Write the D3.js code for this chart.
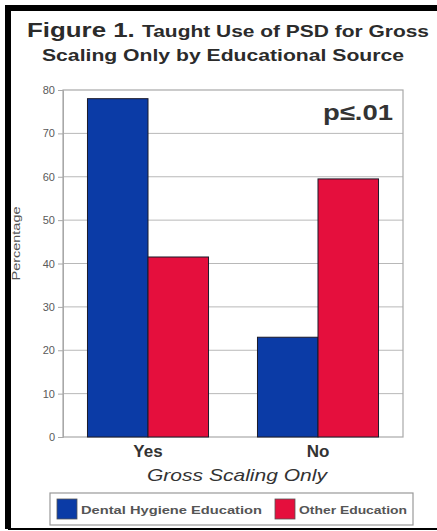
<!DOCTYPE html>
<html>
<head>
<meta charset="utf-8">
<script src="https://cdn.jsdelivr.net/npm/d3@7"></script>
<style>
  html, body { margin: 0; padding: 0; background: #fff; }
  svg { display: block; }
  text { font-family: "Liberation Sans", Arial, sans-serif; }
</style>
</head>
<body>
<div id="chart"></div>
<script>
// Survey results: share of respondents taught to use PSD for gross scaling only
const categories = ["Yes", "No"];
const seriesNames = ["Dental Hygiene Education", "Other Education"];
const dentalHygiene = [78, 23];
const otherEducation = [41.5, 59.5];
const yTicks = [0, 10, 20, 30, 40, 50, 60, 70, 80];

const colors = { "Dental Hygiene Education": "#0b3ba6", "Other Education": "#e50f3d" };

const W = 437, H = 531;
const margin = { left: 63, right: 34, top: 90, bottom: 94 };
const plotW = W - margin.left - margin.right;
const plotH = H - margin.top - margin.bottom;

const svg = d3.select("#chart").append("svg")
  .attr("width", W).attr("height", H);

// outer frame
svg.append("rect").attr("x", 0).attr("y", 0).attr("width", W).attr("height", H).attr("fill", "#fff");
svg.append("path")
  .attr("d", `M8,${H - 2} L8,8 L${W},8`)
  .attr("fill", "none").attr("stroke", "#000").attr("stroke-width", 6);
svg.append("line")
  .attr("x1", 8).attr("x2", W).attr("y1", H - 2).attr("y2", H - 2)
  .attr("stroke", "#000").attr("stroke-width", 2);

// title
const title = svg.append("text").attr("x", 27).attr("y", 37).attr("fill", "#2b2b2b")
  .attr("font-weight", "bold").attr("textLength", 402).attr("lengthAdjust", "spacingAndGlyphs");
title.append("tspan").attr("font-size", 21).text("Figure 1. ");
title.append("tspan").attr("font-size", 17).text("Taught Use of PSD for Gross");
svg.append("text").attr("x", 42).attr("y", 61).attr("fill", "#2b2b2b")
  .attr("font-weight", "bold").attr("font-size", 17)
  .attr("textLength", 362).attr("lengthAdjust", "spacingAndGlyphs")
  .text("Scaling Only by Educational Source");

const g = svg.append("g").attr("transform", `translate(${margin.left},${margin.top})`);

const x0 = d3.scaleBand().domain(categories).range([0, plotW]).paddingInner(0.288).paddingOuter(0.144);
const x1 = d3.scaleBand().domain(seriesNames).range([0, x0.bandwidth()]);
const y = d3.scaleLinear().domain([0, 80]).range([plotH, 0]);

// gridlines
g.append("g").selectAll("line").data(yTicks.filter(d => d > 0 && d < 80)).join("line")
  .attr("x1", 0).attr("x2", plotW)
  .attr("y1", d => y(d)).attr("y2", d => y(d))
  .attr("stroke", "#b8b8b8").attr("stroke-width", 1);

// plot frame
g.append("rect").attr("x", 0).attr("y", 0).attr("width", plotW).attr("height", plotH)
  .attr("fill", "none").attr("stroke", "#a8a8a8").attr("stroke-width", 1.2);

// y axis
const yAxis = g.append("g").call(d3.axisLeft(y).tickValues(yTicks).tickSize(5).tickPadding(3));
yAxis.select(".domain").attr("stroke", "#a8a8a8");
yAxis.selectAll(".tick line").attr("stroke", "#a8a8a8");
yAxis.selectAll(".tick text").attr("fill", "#5a5a5a").attr("font-size", 11)
  .attr("font-family", "Liberation Sans, Arial, sans-serif");

// bars
const rows = categories.map((c, i) => ({ cat: c, values: [
  { name: seriesNames[0], v: dentalHygiene[i] },
  { name: seriesNames[1], v: otherEducation[i] }
]}));
g.append("g").selectAll("g").data(rows).join("g")
  .attr("transform", d => `translate(${x0(d.cat)},0)`)
  .selectAll("rect").data(d => d.values).join("rect")
  .attr("x", d => x1(d.name))
  .attr("y", d => y(d.v))
  .attr("width", x1.bandwidth())
  .attr("height", d => plotH - y(d.v))
  .attr("fill", d => colors[d.name])
  .attr("stroke", "#1a1a2a").attr("stroke-width", 1);

// significance label
g.append("text").attr("x", plotW - 10).attr("y", 30).attr("text-anchor", "end")
  .attr("font-size", 22).attr("font-weight", "bold").attr("fill", "#333")
  .attr("textLength", 70).attr("lengthAdjust", "spacingAndGlyphs").text("p≤.01");

// category labels
g.append("g").selectAll("text").data(categories).join("text")
  .attr("x", d => x0(d) + x0.bandwidth() / 2)
  .attr("y", plotH + 20)
  .attr("text-anchor", "middle").attr("font-size", 17).attr("font-weight", "bold").attr("fill", "#333")
  .text(d => d);

// axis titles
svg.append("text").attr("x", 237).attr("y", 481).attr("text-anchor", "middle")
  .attr("font-size", 17).attr("font-style", "italic").attr("fill", "#333")
  .attr("textLength", 180).attr("lengthAdjust", "spacingAndGlyphs")
  .text("Gross Scaling Only");
svg.append("text").attr("transform", `translate(20,${margin.top + plotH / 2 - 20}) rotate(-90)`)
  .attr("text-anchor", "middle").attr("font-size", 10).attr("fill", "#555")
  .attr("textLength", 74).attr("lengthAdjust", "spacingAndGlyphs")
  .text("Percentage");

// legend
const lg = svg.append("g");
lg.append("rect").attr("x", 50).attr("y", 493).attr("width", 363).attr("height", 32)
  .attr("fill", "#fff").attr("stroke", "#999").attr("stroke-width", 1.2);
const legendX = [57, 275];
const legendTextW = [181, 108];
seriesNames.forEach((name, i) => {
  lg.append("rect").attr("x", legendX[i]).attr("y", 499).attr("width", 20).attr("height", 20)
    .attr("fill", colors[name]).attr("stroke", "#555").attr("stroke-width", 0.8);
  lg.append("text").attr("x", legendX[i] + 24).attr("y", 513.5)
    .attr("font-size", 11).attr("font-weight", "bold").attr("fill", "#555")
    .attr("textLength", legendTextW[i]).attr("lengthAdjust", "spacingAndGlyphs").text(name);
});
</script>
</body>
</html>
